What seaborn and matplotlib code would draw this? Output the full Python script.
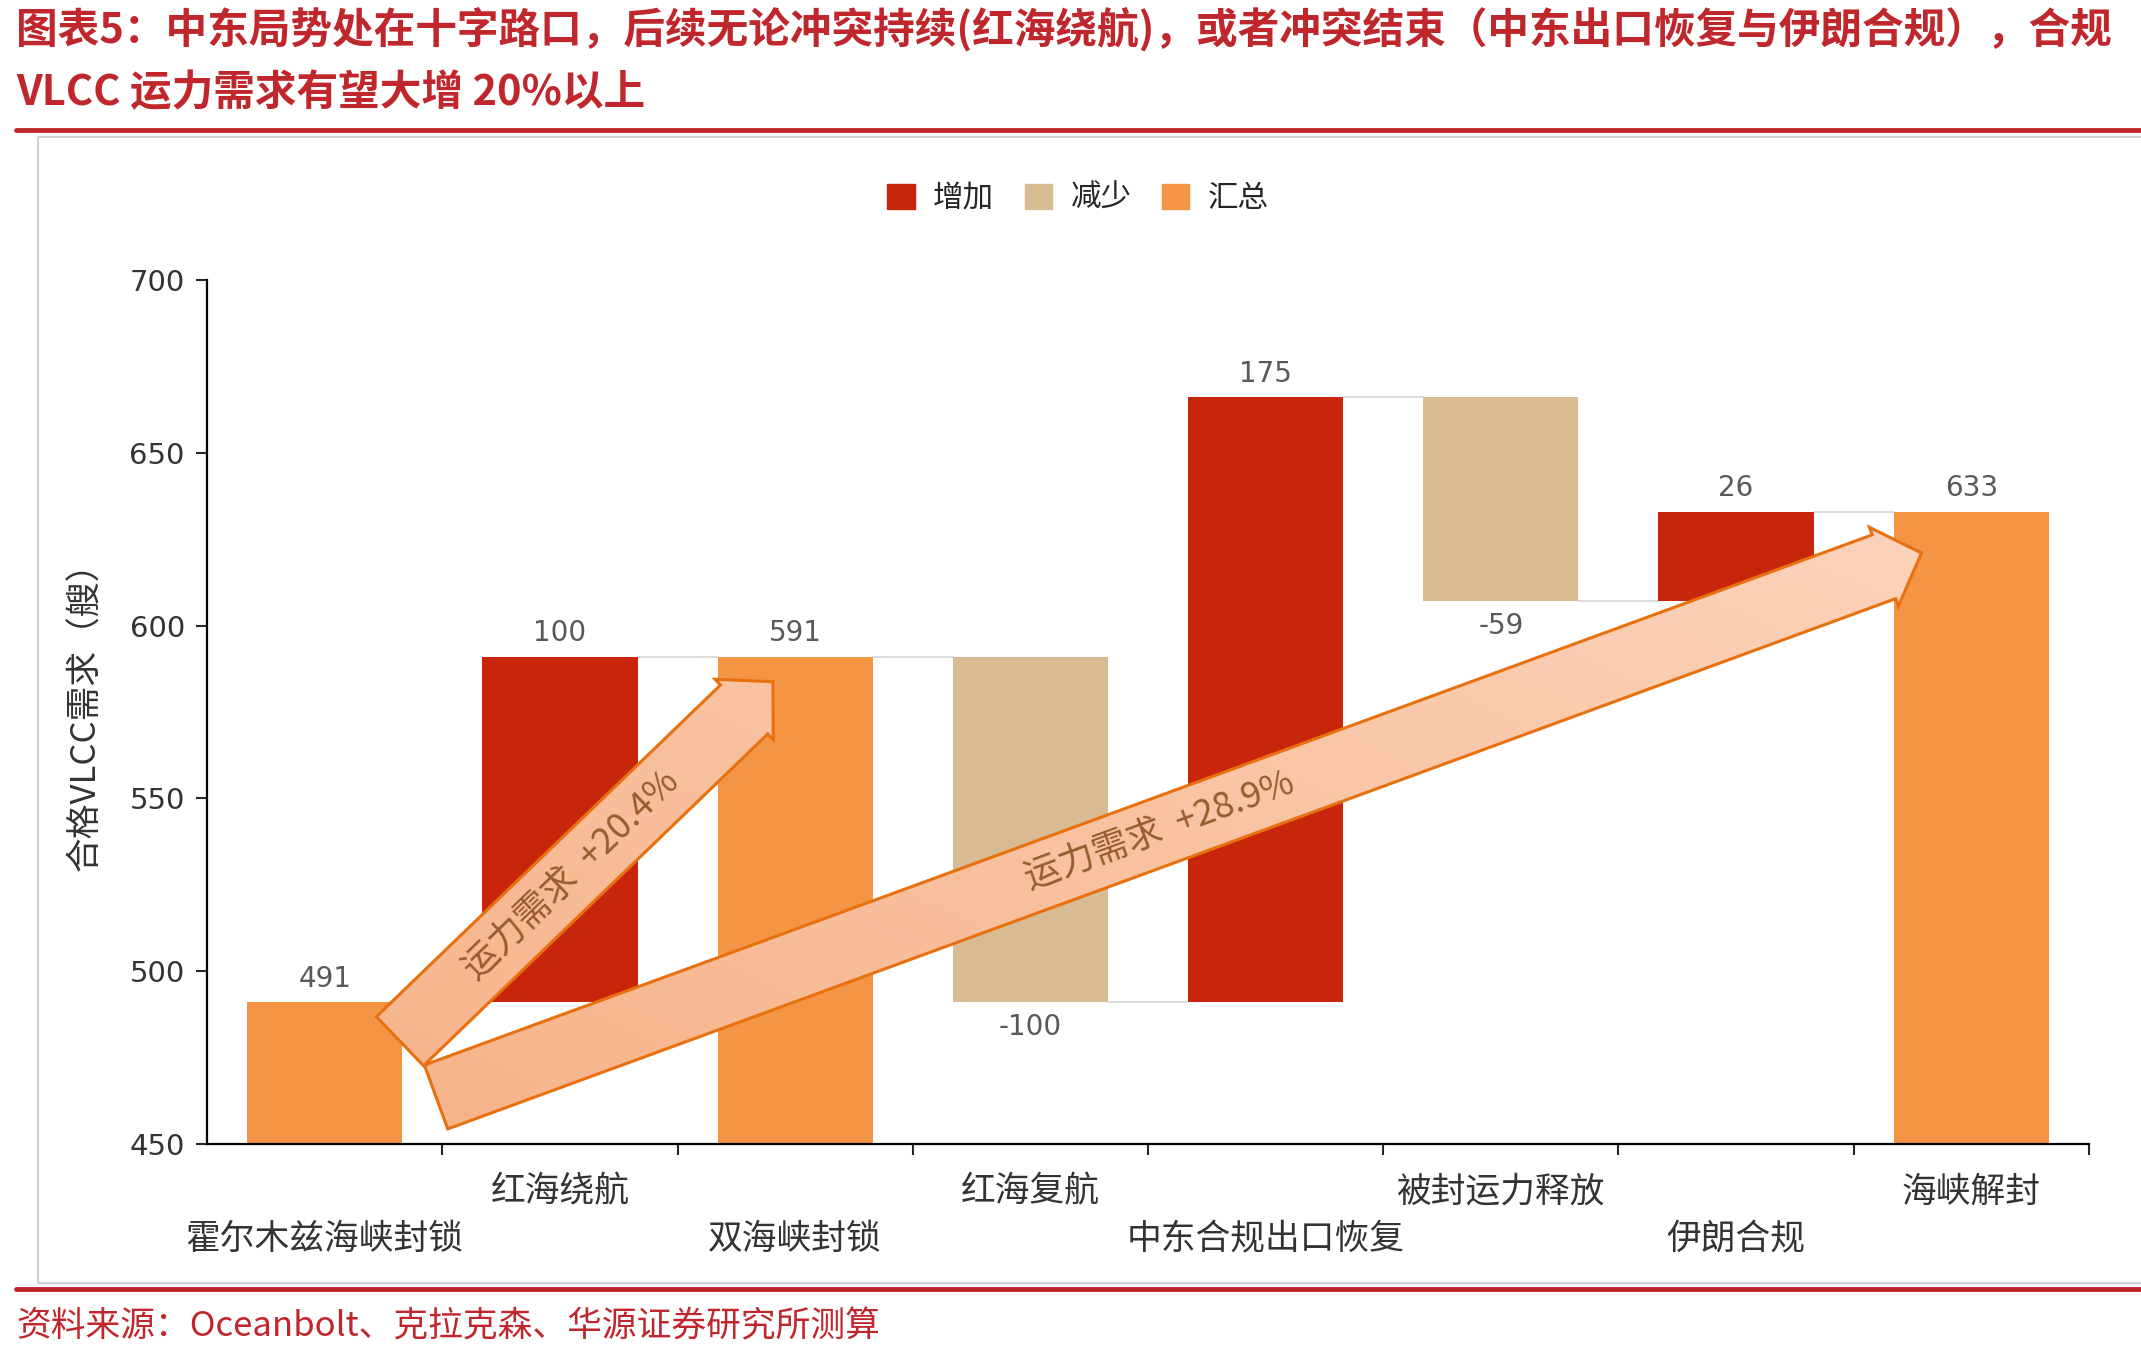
import numpy as np
import matplotlib.pyplot as plt
import matplotlib.patches as mpatches
from matplotlib.lines import Line2D
from matplotlib.colors import LinearSegmentedColormap
import seaborn as sns

# data
categories = ["霍尔木兹海峡封锁", "红海绕航", "双海峡封锁", "红海复航",
              "中东合规出口恢复", "被封运力释放", "伊朗合规", "海峡解封"]
changes = [491, 100, 591, -100, 175, -59, 26, 633]
kinds = ["汇总", "增加", "汇总", "减少", "增加", "减少", "增加", "汇总"]
legend_names = ["增加", "减少", "汇总"]
yticks = [450, 500, 550, 600, 650, 700]
arrow_texts = ["运力需求  +20.4%", "运力需求  +28.9%"]

title1 = "图表5：中东局势处在十字路口，后续无论冲突持续(红海绕航)，或者冲突结束（中东出口恢复与伊朗合规），合规"
title2 = "VLCC 运力需求有望大增 20%以上"
source = "资料来源：Oceanbolt、克拉克森、华源证券研究所测算"

colors = {"增加": "#C8260A", "减少": "#D8BB93", "汇总": "#F39545"}
red = "#C0272D"

# waterfall pieces
bottoms, heights, levels = [], [], []
level = 0
for c, k in zip(changes, kinds):
    if k == "汇总":
        bottoms.append(0)
        heights.append(c)
        level = c
    else:
        bottoms.append(min(level, level + c))
        heights.append(abs(c))
        level += c
    levels.append(level)

sns.set_style("ticks")
plt.rcParams["font.family"] = ["Noto Sans CJK SC", "DejaVu Sans"]

fig = plt.figure(figsize=(21.41, 13.59), dpi=100)
ax = fig.add_axes([0.0967, 0.1582, 0.879, 0.6358])

bar_w = 0.66
sns.barplot(x=categories, y=heights, bottom=bottoms, order=categories, width=bar_w,
            errorbar=None, color=colors["汇总"], ax=ax, linewidth=0)
for p, k in zip(ax.patches, kinds):
    p.set_facecolor(colors[k])
    p.set_edgecolor(colors[k])
    p.set_zorder(2)

# connector lines
for i in range(len(categories) - 1):
    ax.plot([i + bar_w / 2, i + 1 - bar_w / 2], [levels[i], levels[i]],
            color="#D9D9D9", lw=1.3, zorder=1)

# value labels
for i, (c, k) in enumerate(zip(changes, kinds)):
    if c < 0:
        ax.annotate(f"{c}", (i, bottoms[i]), xytext=(0, -8), textcoords="offset points",
                    ha="center", va="top", fontsize=20, color="#595959",
                    family="DejaVu Sans")
    else:
        ax.annotate(f"{c}", (i, levels[i]), xytext=(0, 7), textcoords="offset points",
                    ha="center", va="bottom", fontsize=20, color="#595959",
                    family="DejaVu Sans")

# category labels, alternating rows
for i, name in enumerate(categories):
    off = -69 if i % 2 == 0 else -34.5
    ax.annotate(name, (i, 0), xycoords=("data", "axes fraction"), xytext=(0, off),
                textcoords="offset points", ha="center", va="center",
                fontsize=25, color="#333333")

# arrows with gradient fill
cmap = LinearSegmentedColormap.from_list("peach", ["#F6B187", "#FDDBC6"])
gx, gy = np.meshgrid(np.linspace(0, 1, 256), np.linspace(1, 0, 256))
grad = (gx + gy) / 2


def draw_arrow(t0, t1, label):
    p0 = ax.transAxes.transform(t0)
    p1 = ax.transAxes.transform(t1)
    d = p1 - p0
    u = d / np.hypot(*d)
    n = np.array([-u[1], u[0]])
    w, hw, hl = 34, 42, 40
    b = p1 - u * hl
    pts = [p0 + n * w, b + n * w, b + n * hw, p1, b - n * hw, b - n * w, p0 - n * w]
    pts = ax.transAxes.inverted().transform(np.array(pts))
    poly = mpatches.Polygon(pts, closed=True, transform=ax.transAxes, facecolor="none",
                            edgecolor="#E8700E", lw=2.2, zorder=4, joinstyle="miter")
    ax.add_patch(poly)
    im = ax.imshow(grad, extent=(0, 1, 0, 1), transform=ax.transAxes, cmap=cmap,
                   aspect="auto", zorder=3.5, interpolation="bilinear")
    im.set_clip_path(poly)
    mid = ax.transAxes.inverted().transform((p0 + b) / 2)
    ang = np.degrees(np.arctan2(d[1], d[0]))
    ax.text(mid[0], mid[1], label, transform=ax.transAxes, rotation=ang,
            rotation_mode="anchor", ha="center", va="center", fontsize=26,
            color="#9A5B2F", zorder=5)


draw_arrow((0.1025, 0.119), (0.3007, 0.535), arrow_texts[0])
draw_arrow((0.1217, 0.0544), (0.911, 0.684), arrow_texts[1])

# axes styling
ax.set_xlim(-0.5, len(categories) - 0.5)
ax.set_ylim(450, 700)
ax.set_yticks(yticks)
ax.set_xticks(np.arange(len(categories)) + 0.5)
ax.set_xticklabels([])
ax.set_xlabel("")
ax.tick_params(axis="y", direction="out", length=8, width=1.5, labelsize=21,
               labelcolor="#333333", pad=8, left=True)
ax.tick_params(axis="x", direction="out", length=8, width=1.5, bottom=True)
for lab in ax.get_yticklabels():
    lab.set_family("DejaVu Sans")
sns.despine(ax=ax)
for s in ["left", "bottom"]:
    ax.spines[s].set_linewidth(1.6)
    ax.spines[s].set_color("black")
ax.set_ylabel("合格VLCC需求（艘）", fontsize=25, color="#333333")
ax.yaxis.set_label_coords(-0.055, 0.505)

# legend
handles = [mpatches.Patch(color=colors[k]) for k in legend_names]
fig.legend(handles, legend_names, loc="center", bbox_to_anchor=(0.5035, 0.854), ncol=3,
           frameon=False, fontsize=22, handlelength=0.9, handleheight=0.9,
           handletextpad=0.6, columnspacing=1.0)

# title, frame, source
fig.text(0.0075, 1 - 30 / 1359, title1, fontsize=30, fontweight="bold", color=red,
         ha="left", va="center")
fig.text(0.0075, 1 - 93 / 1359, title2, fontsize=30, fontweight="bold", color=red,
         ha="left", va="center")
fig.add_artist(Line2D([0.0075, 1.0], [1 - 130 / 1359] * 2, transform=fig.transFigure,
                      color=red, lw=3.5))
fig.add_artist(mpatches.Rectangle((0.0177, 0.0559), 0.99, 0.843, transform=fig.transFigure,
                                  fill=False, edgecolor="#C8C8C8", lw=1.2))
fig.add_artist(Line2D([0.0075, 1.0], [1 - 1289 / 1359] * 2, transform=fig.transFigure,
                      color=red, lw=3.5))
fig.text(0.0075, 1 - 1327 / 1359, source, fontsize=25, color=red, ha="left", va="center")

fig.savefig("out.png", dpi=100, facecolor="white")
